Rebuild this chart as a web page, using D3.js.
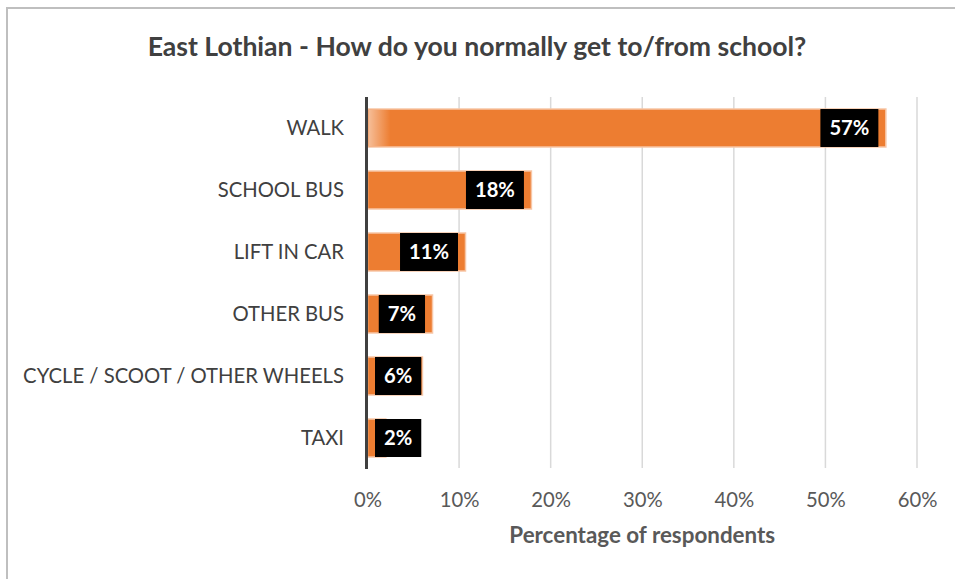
<!DOCTYPE html>
<html>
<head>
<meta charset="utf-8">
<script src="https://cdn.jsdelivr.net/npm/d3@7"></script>
<style>
  html, body { margin: 0; padding: 0; background: #fff; }
  svg { display: block; }
</style>
</head>
<body>
<svg id="chart" width="955" height="579"></svg>
<script>
const categories = ["WALK", "SCHOOL BUS", "LIFT IN CAR", "OTHER BUS", "CYCLE / SCOOT / OTHER WHEELS", "TAXI"];
const values = [56.6, 17.9, 10.7, 7.1, 6, 2];
const valueLabels = ["57%", "18%", "11%", "7%", "6%", "2%"];
const xTicks = [0, 10, 20, 30, 40, 50, 60];
const titleText = "East Lothian - How do you normally get to/from school?";
const xAxisTitle = "Percentage of respondents";

const FONT = "Lato, 'Open Sans', 'DejaVu Sans', sans-serif";
const svg = d3.select("#chart");

// helper: size text so that a sample string reaches a target width
function fitSize(sample, weight, target) {
  const t = svg.append("text").attr("font-family", FONT).attr("font-weight", weight)
    .attr("font-size", 20).text(sample);
  const w = t.node().getComputedTextLength();
  t.remove();
  return 20 * target / w;
}

const titleSize = fitSize(titleText, "bold", 659);
const catSize = fitSize("CYCLE / SCOOT / OTHER WHEELS", "normal", 321);
const axisTitleSize = fitSize(xAxisTitle, "bold", 266);
const dataSize = fitSize("18%", "bold", 40);

// chart border
svg.append("rect").attr("x", 7).attr("y", 8).attr("width", 960).attr("height", 600)
  .attr("fill", "none").attr("stroke", "#BFBFBF").attr("stroke-width", 2);

const plot = { left: 367.5, right: 917, top: 97, bottom: 469 };

const x = d3.scaleLinear().domain([0, 60]).range([plot.left, plot.right]);
const y = d3.scaleBand().domain(categories).range([plot.top, plot.bottom]).paddingInner(0.387).paddingOuter(0.1935);

// gridlines
svg.append("g").selectAll("line").data(xTicks.filter(d => d > 0)).join("line")
  .attr("x1", d => x(d)).attr("x2", d => x(d))
  .attr("y1", plot.top).attr("y2", plot.bottom - 1)
  .attr("stroke", "#D9D9D9").attr("stroke-width", 1.5);

// x axis tick labels
const xAxis = d3.axisBottom(x).tickValues(xTicks).tickFormat(d => d + "%").tickSize(0).tickPadding(0);
const gx = svg.append("g").attr("transform", `translate(0, ${plot.bottom})`).call(xAxis);
gx.select(".domain").remove();
gx.selectAll("text").attr("font-family", FONT).attr("font-size", catSize)
  .attr("fill", "#595959").attr("dy", null).attr("y", 38);

// gradient for soft left edge
const defs = svg.append("defs");
const grad = defs.append("linearGradient").attr("id", "fade").attr("x1", 0).attr("x2", 1).attr("y1", 0).attr("y2", 0);
grad.append("stop").attr("offset", 0).attr("stop-color", "#fff").attr("stop-opacity", 0.5);
grad.append("stop").attr("offset", 1).attr("stop-color", "#fff").attr("stop-opacity", 0);

// bars
const data = categories.map((c, i) => ({ cat: c, v: values[i], label: valueLabels[i], i }));
svg.append("g").selectAll("rect").data(data).join("rect")
  .attr("x", x(0)).attr("y", d => y(d.cat))
  .attr("width", d => x(d.v) - x(0)).attr("height", y.bandwidth())
  .attr("fill", "#ED7D31").attr("stroke", "#F7C6A6").attr("stroke-width", 1.5);

// soft fade at left of the longest bar
svg.append("rect").attr("x", x(0) + 1).attr("y", y(categories[0]) + 1)
  .attr("width", 22).attr("height", y.bandwidth() - 2).attr("fill", "url(#fade)");

// data labels (black boxes)
const lg = svg.append("g").selectAll("g").data(data).join("g");
lg.each(function(d) {
  const g = d3.select(this);
  const t = g.append("text").attr("font-family", FONT).attr("font-weight", "bold")
    .attr("font-size", dataSize).attr("fill", "#fff").attr("text-anchor", "middle")
    .attr("dy", "0.36em").text(d.label);
  const tw = t.node().getComputedTextLength();
  const bw = tw + 18;
  let right = x(d.v) - 7.5;
  let left = right - bw;
  if (left < x(0) + 7.5) { left = x(0) + 7.5; right = left + bw; }
  g.insert("rect", "text").attr("x", left).attr("y", y(d.cat)).attr("width", bw)
    .attr("height", y.bandwidth()).attr("fill", "#000");
  t.attr("x", (left + right) / 2).attr("y", y(d.cat) + y.bandwidth() / 2);
});

// y axis (category labels) and axis line
const yAxis = d3.axisLeft(y).tickSize(0).tickPadding(0);
const gy = svg.append("g").attr("transform", `translate(344, 0)`).call(yAxis);
gy.select(".domain").remove();
gy.selectAll("text").attr("font-family", FONT).attr("font-size", catSize)
  .attr("fill", "#404040").attr("x", 0).attr("dy", "0.35em");

svg.append("line").attr("x1", 366.5).attr("x2", 366.5).attr("y1", plot.top).attr("y2", plot.bottom)
  .attr("stroke", "#404040").attr("stroke-width", 3);

// title
svg.append("text").attr("x", 477).attr("y", 56).attr("text-anchor", "middle")
  .attr("font-family", FONT).attr("font-weight", "bold").attr("font-size", titleSize)
  .attr("fill", "#404040").text(titleText);

// axis title
svg.append("text").attr("x", (plot.left + plot.right) / 2).attr("y", 543).attr("text-anchor", "middle")
  .attr("font-family", FONT).attr("font-weight", "bold").attr("font-size", axisTitleSize)
  .attr("fill", "#595959").text(xAxisTitle);
</script>
</body>
</html>
